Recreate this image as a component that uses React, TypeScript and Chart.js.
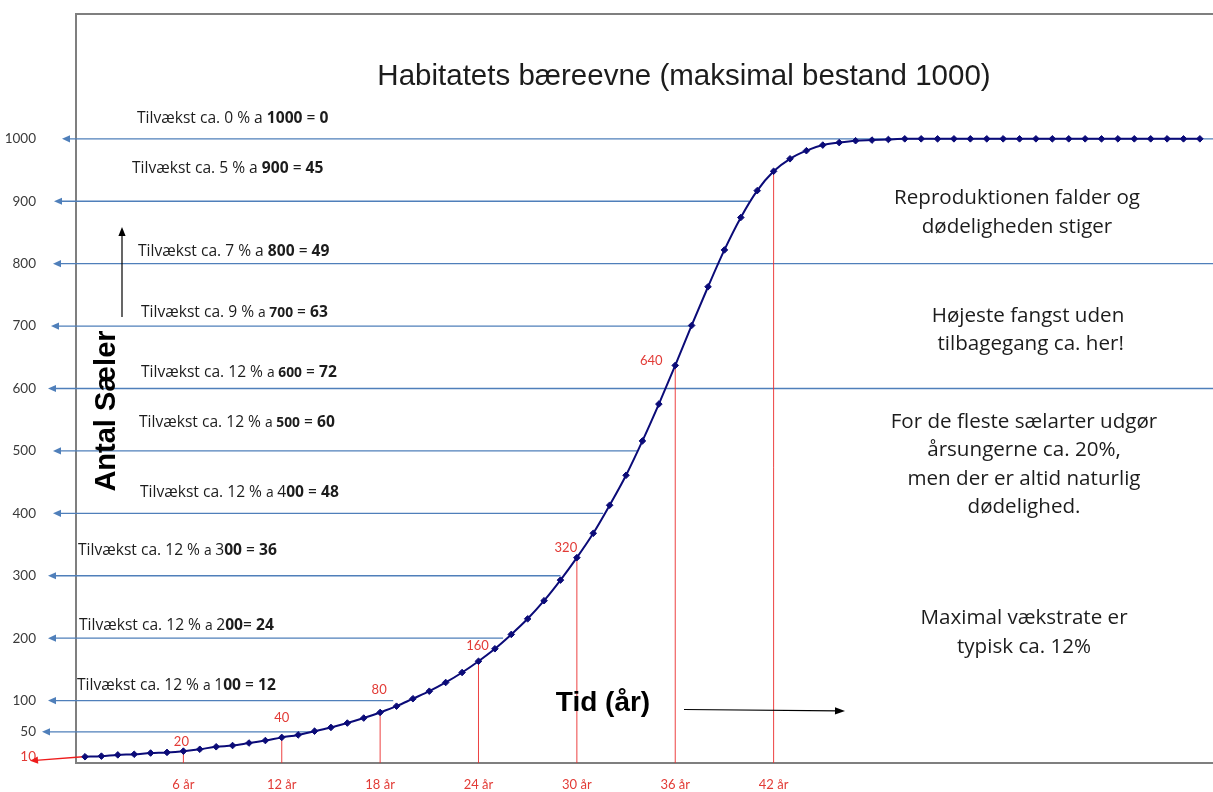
import React, { useEffect, useRef } from 'react';
import { Chart, registerables } from 'chart.js';

Chart.register(...registerables);

// ---------- data ----------
// Number of seals per year (year = index, 0..68)
const population = [
  10, 11, 13, 14, 16, 17, 19, 22, 26, 28,
  32, 36, 41, 45, 51, 57, 64, 72, 81, 91,
  103, 115, 129, 145, 163, 183, 206, 231, 260, 293,
  329, 368, 413, 461, 516, 575, 637, 701, 763, 822,
  874, 917, 948, 968, 981, 990, 994, 997, 998, 999,
  1000, 1000, 1000, 1000, 1000, 1000, 1000, 1000, 1000, 1000,
  1000, 1000, 1000, 1000, 1000, 1000, 1000, 1000, 1000,
];
const yTickValues = [10, 50, 100, 200, 300, 400, 500, 600, 700, 800, 900, 1000];
const xTickYears = [6, 12, 18, 24, 30, 36, 42];
const markYears = [6, 12, 18, 24, 30, 36, 42];
const markLabels = ['20', '40', '80', '160', '320', '640', ''];

const arrowLevels = [1000, 900, 800, 700, 600, 500, 400, 300, 200, 100, 50];
const arrowEndYears: (number | null)[] = [null, 40.5, null, 36.9, null, 33.7, 31.6, 29, 25.5, 18.8, 14];

const noteRates = ['0', '5', '7', '9', '12', '12', '12', '12', '12', '12'];
const noteBases = ['1000', '900', '800', '700', '600', '500', '400', '300', '200', '100'];
const noteGrowth = ['0', '45', '49', '63', '72', '60', '48', '36', '24', '12'];

const titleText = 'Habitatets bæreevne (maksimal bestand 1000)';
const yAxisTitle = 'Antal Sæler';
const xAxisTitle = 'Tid (år)';
const sideNotes = [
  ['Reproduktionen falder og', 'dødeligheden stiger'],
  ['Højeste fangst uden', ' tilbagegang ca. her!'],
  ['For de fleste sælarter udgør', 'årsungerne ca. 20%,', 'men der er altid naturlig', 'dødelighed.'],
  ['Maximal vækstrate er', 'typisk ca. 12%'],
];

// ---------- layout / style ----------
const W = 1213;
const H = 792;
const NAVY = '#0b0b78';
const RED = '#e23b36';
const BLUE = '#4f7fba';
const TXT = '#1c1c1c';
const FRAME = '#7f7f7f';
const SANS = 'Lato, "Open Sans", sans-serif';
const NOTE = '"Open Sans", Lato, sans-serif';
const ARIAL = '"Liberation Sans", Arial, sans-serif';

const arrowTipX = [62, 54, 53, 51, 48, 53, 53, 48, 48, 48, 42];
const notePos = [
  [137, 119], [132, 169], [138, 252], [141, 313], [141, 373],
  [139, 423], [140, 493], [78, 551], [79, 626], [77, 686],
];
const markLabelOffsets = [[-2, -9], [0, -20], [-1, -23], [-1, -15], [-11, -10], [-24, -5], [0, 0]];
const sideNotePos = [
  [1017, 198, 28.7], [1028, 316, 28.5], [1024, 421.7, 28.5], [1024, 618, 28.7],
];

function drawArrow(ctx: CanvasRenderingContext2D, x1: number, y1: number, x2: number, y2: number,
  color: string, width: number, head = 9, half = 3.8) {
  const a = Math.atan2(y2 - y1, x2 - x1);
  const c = Math.cos(a), s = Math.sin(a);
  ctx.save();
  ctx.strokeStyle = color;
  ctx.fillStyle = color;
  ctx.lineWidth = width;
  ctx.beginPath();
  ctx.moveTo(x1, y1);
  ctx.lineTo(x2 - c * head * 0.7, y2 - s * head * 0.7);
  ctx.stroke();
  ctx.beginPath();
  ctx.moveTo(x2, y2);
  ctx.lineTo(x2 - head * c + half * s, y2 - head * s - half * c);
  ctx.lineTo(x2 - head * c - half * s, y2 - head * s + half * c);
  ctx.closePath();
  ctx.fill();
  ctx.restore();
}

function noteParts(i: number): [string, boolean, boolean][] {
  const small = i >= 3;
  const base = noteBases[i];
  const parts: [string, boolean, boolean][] = [[`Tilvækst ca. ${noteRates[i]} % `, false, false], ['a ', false, small]];
  if (i <= 5) {
    parts.push([base, true, small]);
  } else {
    parts.push([base.slice(0, 1), false, false]);
    parts.push([base.slice(1), true, false]);
  }
  parts.push([i === 8 ? '= ' : ' = ', false, false]);
  parts.push([noteGrowth[i], true, false]);
  return parts;
}

const annotationPlugin = {
  id: 'seal-annotations',
  beforeDatasetsDraw(chart: any) {
    const ctx: CanvasRenderingContext2D = chart.ctx;
    const xs = chart.scales.x;
    const ys = chart.scales.y;
    const area = chart.chartArea;

    // top frame line
    ctx.save();
    ctx.strokeStyle = FRAME;
    ctx.lineWidth = 2;
    ctx.beginPath();
    ctx.moveTo(area.left - 1, area.top);
    ctx.lineTo(area.right, area.top);
    ctx.stroke();
    ctx.restore();

    // blue level arrows
    arrowLevels.forEach((lv, k) => {
      const py = ys.getPixelForValue(lv);
      const endYear = arrowEndYears[k];
      const ex = endYear === null ? area.right : xs.getPixelForValue(endYear);
      drawArrow(ctx, ex, py, arrowTipX[k], py, BLUE, 1.3, 8, 3.6);
    });

    // red arrow to 10
    const p0x = xs.getPixelForValue(0);
    const p0y = ys.getPixelForValue(population[0]);
    drawArrow(ctx, p0x - 2, p0y, 30, ys.getPixelForValue(10) + 4, '#ee1c1c', 1.3, 8, 3.6);

    // red vertical marks
    markYears.forEach((yr) => {
      const px = xs.getPixelForValue(yr);
      const py = ys.getPixelForValue(population[yr]);
      ctx.save();
      ctx.strokeStyle = 'rgba(235,45,45,0.9)';
      ctx.lineWidth = 1;
      ctx.beginPath();
      ctx.moveTo(px, py);
      ctx.lineTo(px, area.bottom);
      ctx.stroke();
      ctx.restore();
    });

    // black arrows
    drawArrow(ctx, 122, 317, 122, 227, '#000', 1.2, 9, 3.6);
    drawArrow(ctx, 684, 709.5, 845, 711, '#000', 1.2, 10, 3.6);
  },
  afterDatasetsDraw(chart: any) {
    const ctx: CanvasRenderingContext2D = chart.ctx;
    const xs = chart.scales.x;
    const ys = chart.scales.y;
    ctx.save();
    ctx.textBaseline = 'middle';

    // title
    ctx.fillStyle = TXT;
    ctx.textAlign = 'center';
    ctx.font = `29.5px ${ARIAL}`;
    ctx.fillText(titleText, 684, 77);

    // axis titles
    ctx.font = `bold 28px ${ARIAL}`;
    ctx.fillStyle = '#000';
    ctx.fillText(xAxisTitle, 603, 703);
    ctx.save();
    ctx.translate(107, 411);
    ctx.rotate(-Math.PI / 2);
    ctx.font = `bold 29px ${ARIAL}`;
    ctx.fillText(yAxisTitle, 0, 0);
    ctx.restore();

    // red value labels
    ctx.fillStyle = RED;
    ctx.font = `13px ${SANS}`;
    markYears.forEach((yr, k) => {
      if (!markLabels[k]) return;
      const px = xs.getPixelForValue(yr);
      const py = ys.getPixelForValue(population[yr]);
      const off = markLabelOffsets[k];
      ctx.fillText(markLabels[k], px + off[0], py + off[1]);
    });

    // growth notes
    ctx.textAlign = 'left';
    ctx.fillStyle = TXT;
    notePos.forEach((pos, i) => {
      let x = pos[0];
      noteParts(i).forEach(([t, bold, small]) => {
        const size = small ? 13.8 : 15.6;
        ctx.font = `${bold ? 'bold ' : ''}${size}px ${NOTE}`;
        ctx.fillText(t, x, pos[1]);
        x += ctx.measureText(t).width;
      });
    });

    // right-side notes
    ctx.textAlign = 'center';
    ctx.font = `20.6px ${NOTE}`;
    sideNotes.forEach((lines, k) => {
      const [cx, cy, lh] = sideNotePos[k];
      lines.forEach((ln, j) => ctx.fillText(ln, cx, cy + j * lh));
    });
    ctx.restore();
  },
};

export default function App() {
  const ref = useRef<HTMLCanvasElement | null>(null);
  useEffect(() => {
    if (!ref.current) return;
    const chart = new Chart(ref.current, {
      type: 'line',
      data: {
        datasets: [
          {
            data: population.map((v, i) => ({ x: i, y: v })),
            borderColor: NAVY,
            backgroundColor: NAVY,
            borderWidth: 2,
            pointStyle: 'rectRot',
            pointRadius: 3.3,
            pointBorderWidth: 1,
            pointBackgroundColor: NAVY,
            pointBorderColor: NAVY,
            cubicInterpolationMode: 'monotone',
            fill: false,
            clip: 8,
          },
        ],
      },
      options: {
        animation: false,
        responsive: false,
        devicePixelRatio: 1,
        layout: { autoPadding: false, padding: { top: 14, right: 0, bottom: 0, left: 0 } },
        plugins: { legend: { display: false }, tooltip: { enabled: false }, title: { display: false } },
        scales: {
          x: {
            type: 'linear',
            min: -0.55,
            max: 68.8,
            grid: { display: false, drawTicks: false },
            border: { display: true, color: FRAME, width: 2 },
            afterBuildTicks: (s: any) => { s.ticks = xTickYears.map((v) => ({ value: v })); },
            afterFit: (s: any) => { s.height = 29; s.paddingLeft = 0; s.paddingRight = 0; },
            ticks: {
              autoSkip: false,
              maxRotation: 0,
              padding: 14,
              color: RED,
              font: { family: 'Lato', size: 13 },
              callback: (v: any) => `${v} år`,
            },
          },
          y: {
            type: 'linear',
            min: 0,
            max: 1200,
            grid: { display: false, drawTicks: false },
            border: { display: true, color: FRAME, width: 2 },
            afterBuildTicks: (s: any) => { s.ticks = yTickValues.map((v) => ({ value: v })); },
            afterFit: (s: any) => { s.width = 76; s.paddingTop = 0; s.paddingBottom = 0; },
            ticks: {
              autoSkip: false,
              padding: 40,
              font: { family: 'Lato', size: 13.5 },
              color: (c: any) => (c.tick && c.tick.value === 10 ? RED : '#3a3a3a'),
              callback: (v: any) => `${v}`,
            },
          },
        },
      },
      plugins: [annotationPlugin],
    } as any);
    return () => chart.destroy();
  }, []);
  return (
    <div style={{ position: 'absolute', left: 0, top: 0, width: W, height: H, background: '#fff' }}>
      <canvas ref={ref} width={W} height={H} style={{ display: 'block' }} />
    </div>
  );
}
